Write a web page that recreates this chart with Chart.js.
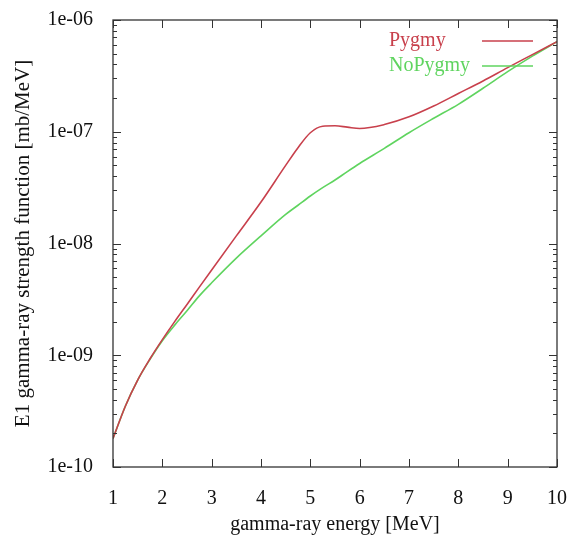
<!DOCTYPE html>
<html>
<head>
<meta charset="utf-8">
<script src="https://cdn.jsdelivr.net/npm/chart.js@4.4.1/dist/chart.umd.min.js"></script>
<style>
  html, body { margin: 0; padding: 0; background: #fff; }
  #wrap { width: 578px; height: 552px; }
</style>
</head>
<body>
<div id="wrap"><canvas id="strength" width="578" height="552"></canvas></div>
<script>
// gamma-ray energy [MeV]
const energies = [1, 1.25, 1.5, 1.75, 2, 2.25, 2.5, 2.75, 3, 3.5, 4, 4.5, 4.75, 5, 5.25, 5.5, 5.75, 6, 6.5, 7, 7.5, 8, 8.5, 9, 9.5, 10];

// E1 strength function [mb/MeV]
const pygmy = [1.8e-10, 3.5e-10, 6.0e-10, 9.3e-10, 1.38e-9, 2.0e-9, 2.85e-9, 4.07e-9, 5.8e-9, 1.17e-8, 2.35e-8, 5.0e-8, 7.2e-8, 9.8e-8, 1.12e-7, 1.13e-7, 1.1e-7, 1.07e-7, 1.16e-7, 1.36e-7, 1.7e-7, 2.2e-7, 2.85e-7, 3.75e-7, 4.9e-7, 6.4e-7];
const noPygmy = [1.8e-10, 3.5e-10, 6.0e-10, 9.2e-10, 1.35e-9, 1.86e-9, 2.5e-9, 3.4e-9, 4.45e-9, 7.4e-9, 1.17e-8, 1.82e-8, 2.2e-8, 2.66e-8, 3.16e-8, 3.7e-8, 4.4e-8, 5.2e-8, 7.1e-8, 9.8e-8, 1.32e-7, 1.76e-7, 2.45e-7, 3.45e-7, 4.75e-7, 6.4e-7];

const xTicks = [1, 2, 3, 4, 5, 6, 7, 8, 9, 10];
const yDecades = [1e-10, 1e-9, 1e-8, 1e-7, 1e-6];

const FONT = "'Liberation Serif', 'DejaVu Serif', serif";
const RED = "#c8404c";
const GREEN = "#5fd45f";

function toPoints(ys) {
    return energies.map((x, i) => ({ x: x, y: ys[i] }));
}

function expLabel(v) {
    const e = Math.round(Math.log10(v));
    return "1e-" + String(-e).padStart(2, "0");
}

// gnuplot style frame, inward ticks (mirrored) and key
const gnuplotDecor = {
    id: "gnuplotDecor",
    afterDatasetsDraw(chart) {
        const ctx = chart.ctx;
        const a = chart.chartArea;
        const xs = chart.scales.x;
        const ys = chart.scales.y;
        ctx.save();
        ctx.strokeStyle = "#333";
        ctx.lineWidth = 1.3;
        ctx.strokeRect(a.left, a.top, a.right - a.left, a.bottom - a.top);

        ctx.lineWidth = 1;
        ctx.beginPath();
        xTicks.forEach(t => {
            const px = Math.round(xs.getPixelForValue(t)) + 0.5;
            ctx.moveTo(px, a.bottom); ctx.lineTo(px, a.bottom - 8);
            ctx.moveTo(px, a.top); ctx.lineTo(px, a.top + 8);
        });
        yDecades.forEach((d, i) => {
            const py = Math.round(ys.getPixelForValue(d)) + 0.5;
            ctx.moveTo(a.left, py); ctx.lineTo(a.left + 8, py);
            ctx.moveTo(a.right, py); ctx.lineTo(a.right - 8, py);
            if (i < yDecades.length - 1) {
                for (let m = 2; m <= 9; m++) {
                    const q = Math.round(ys.getPixelForValue(d * m)) + 0.5;
                    ctx.moveTo(a.left, q); ctx.lineTo(a.left + 4, q);
                    ctx.moveTo(a.right, q); ctx.lineTo(a.right - 4, q);
                }
            }
        });
        ctx.stroke();

        // key
        ctx.font = "20px " + FONT;
        ctx.textAlign = "left";
        ctx.textBaseline = "middle";
        chart.data.datasets.forEach((ds, i) => {
            const y = 41 + i * 25;
            ctx.fillStyle = ds.borderColor;
            ctx.fillText(ds.label, 389, y);
            ctx.strokeStyle = ds.borderColor;
            ctx.lineWidth = 1.5;
            ctx.beginPath();
            ctx.moveTo(482, y);
            ctx.lineTo(533, y);
            ctx.stroke();
        });
        ctx.restore();
    }
};

new Chart(document.getElementById("strength"), {
    type: "line",
    data: {
        datasets: [
            {
                label: "Pygmy",
                data: toPoints(pygmy),
                borderColor: RED,
                borderWidth: 1.6,
                pointRadius: 0,
                cubicInterpolationMode: "monotone",
                fill: false
            },
            {
                label: "NoPygmy",
                data: toPoints(noPygmy),
                borderColor: GREEN,
                borderWidth: 1.6,
                pointRadius: 0,
                cubicInterpolationMode: "monotone",
                fill: false
            }
        ]
    },
    options: {
        responsive: false,
        animation: false,
        layout: { padding: { left: 0, right: 21, top: 20, bottom: 0 } },
        plugins: {
            legend: { display: false },
            tooltip: { enabled: false }
        },
        scales: {
            x: {
                type: "linear",
                min: 1,
                max: 10,
                afterBuildTicks: s => { s.ticks = xTicks.map(v => ({ value: v })); },
                grid: { display: false },
                border: { display: false },
                ticks: {
                    font: { family: FONT, size: 20 },
                    color: "#111",
                    padding: 12,
                    maxRotation: 0
                },
                title: {
                    display: true,
                    text: "gamma-ray energy [MeV]",
                    font: { family: FONT, size: 20 },
                    color: "#111",
                    padding: { top: 0, bottom: 15 }
                },
                afterFit: s => { s.height = 85; s.paddingLeft = 0; s.paddingRight = 0; }
            },
            y: {
                type: "logarithmic",
                min: 1e-10,
                max: 1e-6,
                afterBuildTicks: s => { s.ticks = yDecades.map(v => ({ value: v })); },
                grid: { display: false },
                border: { display: false },
                ticks: {
                    font: { family: FONT, size: 20 },
                    color: "#111",
                    padding: 12,
                    callback: v => expLabel(v)
                },
                title: {
                    display: true,
                    text: "E1 gamma-ray strength function [mb/MeV]",
                    font: { family: FONT, size: 21 },
                    color: "#111",
                    padding: { top: 11, bottom: 0 }
                },
                afterFit: s => { s.width = 113; s.paddingTop = 0; s.paddingBottom = 0; }
            }
        }
    },
    plugins: [gnuplotDecor]
});
</script>
</body>
</html>
